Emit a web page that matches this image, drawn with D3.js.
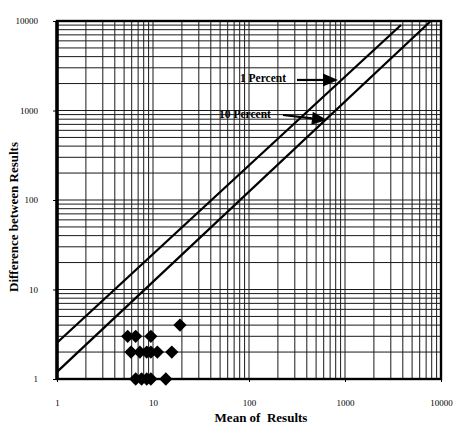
<!DOCTYPE html>
<html>
<head>
<meta charset="utf-8">
<script src="https://cdn.jsdelivr.net/npm/d3@7"></script>
<style>
  body { margin: 0; background: #fff; }
  text { font-family: "Liberation Serif", "Times New Roman", serif; }
</style>
</head>
<body>
<div class="canvas"></div>
<script>
// data
const majorTicks = [1, 10, 100, 1000, 10000];

// the two percent lines (end points)
const line1X = [1, 3830];
const line1Y = [2.54, 9020];
const line2X = [1, 7680];
const line2Y = [1.2, 9800];

// measured results
const pointX = [5.45, 6.6, 9.5, 5.9, 7.3, 8.6, 9.5, 11.1, 15.7, 6.6, 7.6, 8.6, 9.5, 13.6, 19.1];
const pointY = [3, 3, 3, 2, 2, 2, 2, 2, 2, 1, 1, 1, 1, 1, 4];

// annotations: label end, arrow tail, arrow tip
const noteText = ['1 Percent', '10 Percent'];
const noteTextX = [243, 169];
const noteTextY = [2082, 824];
const arrowFromX = [316, 226];
const arrowFromY = [2193, 891];
const arrowToX = [845, 649];
const arrowToY = [2193, 783];

// margins
const margin = {top: 21, right: 12, bottom: 47, left: 57};
const width = 453;
const height = 426;
const graphWidth = width - margin.left - margin.right;
const graphHeight = height - margin.top - margin.bottom;

const svg = d3.select('.canvas').append('svg')
    .attr('width', width)
    .attr('height', height);

const graph = svg.append('g')
    .attr('transform', `translate(${margin.left}, ${margin.top})`);

// scales
const x = d3.scaleLog().domain([1, 10000]).range([0, graphWidth]);
const y = d3.scaleLog().domain([1, 10000]).range([graphHeight, 0]);

// grid values 1..9 per decade
const gridVals = [];
[1, 10, 100, 1000].forEach(d => {
    for (let k = 1; k < 10; k++) gridVals.push(k * d);
});
gridVals.push(10000);

const grid = graph.append('g').attr('class', 'grid');
grid.selectAll('.gx').data(gridVals).enter().append('line')
    .attr('x1', d => x(d)).attr('x2', d => x(d))
    .attr('y1', 0).attr('y2', graphHeight)
    .attr('stroke', '#1a1a1a').attr('stroke-width', 1);
grid.selectAll('.gy').data(gridVals).enter().append('line')
    .attr('y1', d => y(d)).attr('y2', d => y(d))
    .attr('x1', 0).attr('x2', graphWidth)
    .attr('stroke', '#1a1a1a').attr('stroke-width', 1);

// axes
const xAxis = d3.axisBottom(x)
    .tickValues(majorTicks)
    .tickFormat(d3.format('d'))
    .tickSize(3)
    .tickPadding(18);
const yAxis = d3.axisLeft(y)
    .tickValues(majorTicks)
    .tickFormat(d3.format('d'))
    .tickSize(4)
    .tickPadding(15);

const xAxisGroup = graph.append('g')
    .attr('transform', `translate(0, ${graphHeight})`)
    .call(xAxis);
const yAxisGroup = graph.append('g').call(yAxis);

[xAxisGroup, yAxisGroup].forEach(g => {
    g.select('.domain').remove();
    g.selectAll('.tick line').attr('stroke', '#000');
    g.selectAll('.tick text')
        .attr('fill', '#000')
        .style('font-size', '9px')
        .style('font-family', '"Liberation Serif", serif');
});

// border
graph.append('rect')
    .attr('x', 0).attr('y', 0)
    .attr('width', graphWidth).attr('height', graphHeight)
    .attr('fill', 'none')
    .attr('stroke', '#000')
    .attr('stroke-width', 2.4);
graph.append('line')
    .attr('x1', 0).attr('x2', 0).attr('y1', 0).attr('y2', graphHeight)
    .attr('stroke', '#000').attr('stroke-width', 3.5);

// percent lines
const line = d3.line()
    .x(d => x(d[0]))
    .y(d => y(d[1]));

[[line1X, line1Y], [line2X, line2Y]].forEach(([xs, ys]) => {
    graph.append('path')
        .datum(d3.zip(xs, ys))
        .attr('d', line)
        .attr('fill', 'none')
        .attr('stroke', '#000')
        .attr('stroke-width', 2.3);
});

// diamonds
const diamond = d3.symbol(d3.symbolSquare, 88);
graph.selectAll('.pt').data(d3.zip(pointX, pointY)).enter().append('path')
    .attr('d', diamond)
    .attr('transform', d => `translate(${x(d[0])}, ${y(d[1])}) rotate(45)`)
    .attr('fill', '#000');

// annotations with arrows
noteText.forEach((t, i) => {
    graph.append('text')
        .attr('x', x(noteTextX[i]))
        .attr('y', y(noteTextY[i]))
        .attr('text-anchor', 'end')
        .style('font-size', '11.5px')
        .style('font-weight', 'bold')
        .text(t);

    const x1 = x(arrowFromX[i]), y1 = y(arrowFromY[i]);
    const x2 = x(arrowToX[i]), y2 = y(arrowToY[i]);
    const ang = Math.atan2(y2 - y1, x2 - x1);
    const headLen = 15, headHalf = 6.5;
    const bx = x2 - headLen * Math.cos(ang), by = y2 - headLen * Math.sin(ang);

    graph.append('line')
        .attr('x1', x1).attr('y1', y1)
        .attr('x2', bx).attr('y2', by)
        .attr('stroke', '#000').attr('stroke-width', 2.2);
    graph.append('path')
        .attr('d', `M${x2},${y2}` +
            `L${bx - headHalf * Math.sin(ang)},${by + headHalf * Math.cos(ang)}` +
            `L${bx + headHalf * Math.sin(ang)},${by - headHalf * Math.cos(ang)}Z`)
        .attr('fill', '#000');
});

// axis titles
svg.append('text')
    .attr('x', 261)
    .attr('y', 422)
    .attr('text-anchor', 'middle')
    .style('font-size', '13px')
    .style('font-weight', 'bold')
    .style('white-space', 'pre')
    .text('Mean of  Results');

svg.append('text')
    .attr('transform', 'translate(18, 217) rotate(-90)')
    .attr('text-anchor', 'middle')
    .style('font-size', '13px')
    .style('font-weight', 'bold')
    .text('Difference between Results');
</script>
</body>
</html>
